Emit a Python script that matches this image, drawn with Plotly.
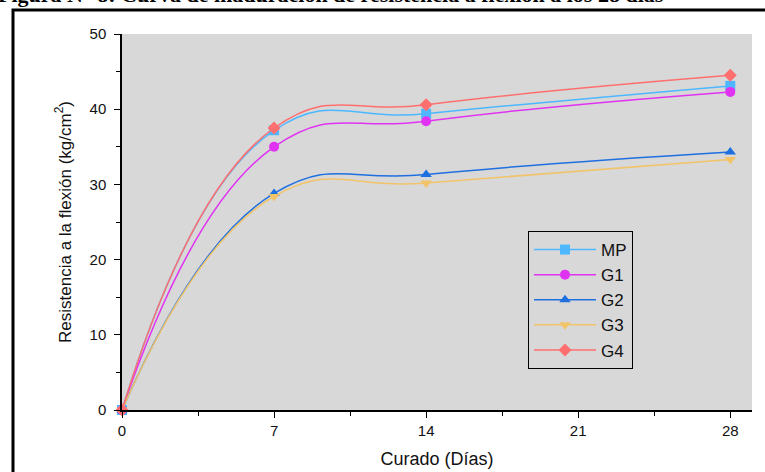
import plotly.graph_objects as go

dias = [0, 7, 14, 28]
mp = [0, 37.2, 39.4, 43.1]
g1 = [0, 35.0, 38.4, 42.3]
g2 = [0, 28.8, 31.3, 34.3]
g3 = [0, 28.4, 30.2, 33.3]
g4 = [0, 37.5, 40.6, 44.5]

series = [
    ("MP", mp, "#4DB8FF", "square"),
    ("G1", g1, "#E033F2", "circle"),
    ("G2", g2, "#1E6FE0", "triangle-up"),
    ("G3", g3, "#F2C46A", "triangle-down"),
    ("G4", g4, "#FF6F6F", "diamond"),
]

x_ticks = [0, 7, 14, 21, 28]
y_ticks = [0, 10, 20, 30, 40, 50]

fig = go.Figure()
for name, vals, col, sym in series:
    fig.add_trace(go.Scatter(
        x=dias, y=vals, name=name, mode="lines+markers",
        line=dict(color=col, width=1.5, shape="spline", smoothing=1.3),
        marker=dict(color=col, symbol=sym, size=10),
        cliponaxis=False,
    ))

fig.update_layout(
    width=765, height=472,
    margin=dict(l=122, r=13, t=34, b=62, autoexpand=False),
    paper_bgcolor="white",
    plot_bgcolor="#D8D8D8",
    font=dict(family="Liberation Sans, Arial", color="#111"),
    showlegend=True,
    legend=dict(
        x=(528 - 122) / 630, y=(410 - 231) / 376, xanchor="left", yanchor="top",
        bgcolor="#D8D8D8", bordercolor="black", borderwidth=1,
        font=dict(size=17, family="Liberation Sans, Arial", color="#111"),
        itemwidth=62, tracegroupgap=0,
    ),
    xaxis=dict(
        range=[0, 29], tickvals=x_ticks, ticks="outside", ticklen=6,
        tickcolor="black", showline=True, linecolor="black", linewidth=1.5,
        showgrid=False, zeroline=False, tickfont=dict(size=15), automargin=False,
        minor=dict(ticks="outside", dtick=3.5, ticklen=4, tickcolor="black", showgrid=False),
        title=dict(text="Curado (Días)", font=dict(size=18), standoff=15),
    ),
    yaxis=dict(
        range=[0, 50], tickvals=y_ticks, ticks="outside", ticklen=6,
        tickcolor="black", showline=True, linecolor="black", linewidth=1.5,
        showgrid=False, zeroline=False, tickfont=dict(size=15), automargin=False,
        ticklabelstandoff=5,
        minor=dict(ticks="outside", dtick=5, ticklen=4, tickcolor="black", showgrid=False),
        title=dict(text="Resistencia a la flexión (kg/cm<sup>2</sup>)", font=dict(size=17), standoff=14),
    ),
    shapes=[
        dict(type="rect", xref="paper", yref="paper",
             x0=(13 - 122) / 630, x1=1.5, y0=-0.5, y1=(410 - 10) / 376,
             line=dict(color="black", width=3), fillcolor="rgba(0,0,0,0)", layer="above"),
    ],
    annotations=[
        dict(text="<b>Figura N° 8: Curva de maduración de resistencia a flexión a los 28 días</b>",
             xref="paper", yref="paper", x=(-4 - 122) / 630, y=(410 + 5) / 376,
             xanchor="left", yanchor="middle", showarrow=False,
             font=dict(family="Liberation Serif, Times New Roman", size=22, color="black")),
    ],
)

fig.write_html("out.html", config={"displayModeBar": False},
               post_script="document.body.style.margin='0';document.body.style.overflow='hidden';")
